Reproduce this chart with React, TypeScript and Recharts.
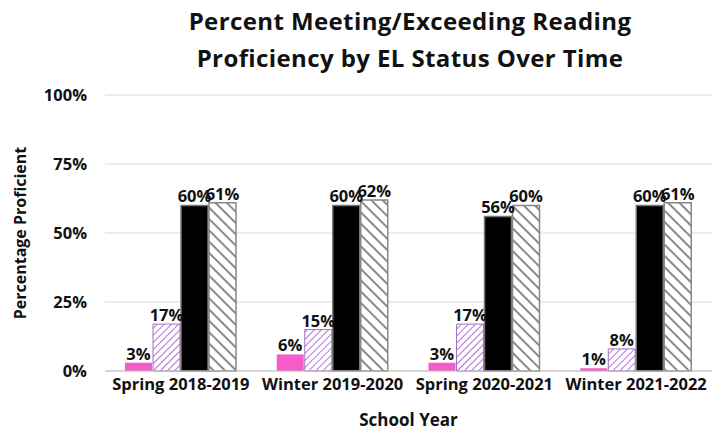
import { Bar, BarChart, CartesianGrid, LabelList, XAxis, YAxis } from "recharts";

const schoolYears = ["Spring 2018-2019", "Winter 2019-2020", "Spring 2020-2021", "Winter 2021-2022"];
const elSchool = [3, 6, 3, 1];
const elDistrict = [17, 15, 17, 8];
const nonElSchool = [60, 60, 56, 60];
const nonElDistrict = [61, 62, 60, 61];
const yTicks = [0, 25, 50, 75, 100];
const titleLines = ["Percent Meeting/Exceeding Reading", "Proficiency by EL Status Over Time"];

const FONT = "'Open Sans', 'Liberation Sans', sans-serif";

if (typeof document !== "undefined") document.body.style.margin = "0";

const data = schoolYears.map((year, i) => ({
  year,
  elSchool: elSchool[i],
  elDistrict: elDistrict[i],
  nonElSchool: nonElSchool[i],
  nonElDistrict: nonElDistrict[i],
}));

const labelStyle = { fontSize: 16.5, fontWeight: 700, fill: "#111", fontFamily: FONT };
const pct = (v: unknown) => `${v}%`;

export default function App() {
  return (
    <div style={{ position: "relative", width: 725, height: 433, background: "#fff", fontFamily: FONT }}>
      <div
        style={{
          position: "absolute",
          top: 2,
          left: 110,
          width: 600,
          textAlign: "center",
          fontSize: 24,
          fontWeight: 700,
          lineHeight: "37px",
          color: "#111",
          letterSpacing: 0.4,
          whiteSpace: "nowrap",
        }}
      >
        {titleLines.map((line) => (
          <div key={line}>{line}</div>
        ))}
      </div>
      <BarChart
        width={725}
        height={433}
        data={data}
        margin={{ top: 95, right: 13, left: 0, bottom: 0 }}
        barSize={27}
        barGap={1}
      >
        <defs>
          <pattern id="purpleHatch" width="5" height="5" patternUnits="userSpaceOnUse" patternTransform="rotate(45)">
            <rect width="5" height="5" fill="#fff" />
            <line x1="0" y1="0" x2="0" y2="5" stroke="#b870da" strokeWidth="2" />
          </pattern>
          <pattern id="grayHatch" width="8" height="8" patternUnits="userSpaceOnUse" patternTransform="rotate(-45)">
            <rect width="8" height="8" fill="#fff" />
            <line x1="0" y1="0" x2="0" y2="8" stroke="#8a8a8a" strokeWidth="4" />
          </pattern>
        </defs>
        <CartesianGrid vertical={false} stroke="#d9d9d9" />
        <XAxis
          dataKey="year"
          axisLine={{ stroke: "#bfbfbf" }}
          tickLine={false}
          tick={{ fontSize: 16.5, fontWeight: 700, fill: "#111", fontFamily: FONT }}
          tickMargin={1}
          label={{ value: "School Year", position: "insideBottom", offset: 7, style: { fontSize: 17, fontWeight: 700, fill: "#111", fontFamily: FONT } }}
          height={62}
        />
        <YAxis
          width={105}
          domain={[0, 100]}
          ticks={yTicks}
          tickFormatter={pct}
          axisLine={false}
          tickLine={false}
          tickMargin={12}
          tick={{ fontSize: 16.5, fontWeight: 700, fill: "#111", fontFamily: FONT }}
          label={{
            value: "Percentage Proficient",
            angle: -90,
            position: "insideLeft",
            offset: 20,
            style: { textAnchor: "middle", fontSize: 16, fontWeight: 700, fill: "#111", fontFamily: FONT },
          }}
        />
        <Bar dataKey="elSchool" fill="#f55bc9" isAnimationActive={false}>
          <LabelList dataKey="elSchool" position="top" offset={3} formatter={pct} style={labelStyle} />
        </Bar>
        <Bar dataKey="elDistrict" fill="url(#purpleHatch)" stroke="#a070c4" strokeWidth={1} isAnimationActive={false}>
          <LabelList dataKey="elDistrict" position="top" offset={3} formatter={pct} style={labelStyle} />
        </Bar>
        <Bar dataKey="nonElSchool" fill="#000" stroke="#777" strokeWidth={1.5} isAnimationActive={false}>
          <LabelList dataKey="nonElSchool" position="top" offset={3} formatter={pct} style={labelStyle} />
        </Bar>
        <Bar dataKey="nonElDistrict" fill="url(#grayHatch)" stroke="#888" strokeWidth={1.5} isAnimationActive={false}>
          <LabelList dataKey="nonElDistrict" position="top" offset={3} formatter={pct} style={labelStyle} />
        </Bar>
      </BarChart>
    </div>
  );
}
